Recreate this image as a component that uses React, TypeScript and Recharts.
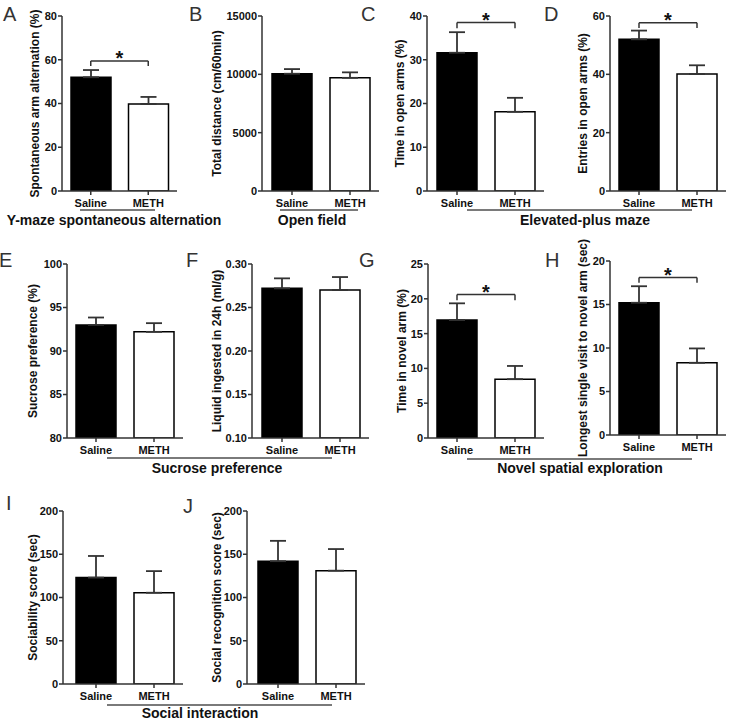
import React from 'react';
import { BarChart, Bar, XAxis, YAxis, ErrorBar, Cell, ReferenceLine } from 'recharts';

const FONT = '"Liberation Sans", Arial, Helvetica, sans-serif';

// ---------- data ----------
const groups = ['Saline', 'METH'];

const yMazeValues = [52.0, 39.8];
const yMazeErrors = [3.3, 3.2];
const yMazeTicks = [0, 20, 40, 60, 80];

const distanceValues = [10050, 9700];
const distanceErrors = [400, 470];
const distanceTicks = [0, 5000, 10000, 15000];

const openTimeValues = [31.6, 18.1];
const openTimeErrors = [4.7, 3.2];
const openTimeTicks = [0, 10, 20, 30, 40];

const openEntriesValues = [52.0, 40.1];
const openEntriesErrors = [3.0, 3.0];
const openEntriesTicks = [0, 20, 40, 60];

const sucroseValues = [93.0, 92.2];
const sucroseErrors = [0.85, 1.0];
const sucroseTicks = [80, 85, 90, 95, 100];

const liquidValues = [0.272, 0.27];
const liquidErrors = [0.0115, 0.015];
const liquidTicks = [0.1, 0.15, 0.2, 0.25, 0.3];

const novelTimeValues = [16.95, 8.45];
const novelTimeErrors = [2.4, 1.9];
const novelTimeTicks = [0, 5, 10, 15, 20, 25];

const longestVisitValues = [15.2, 8.3];
const longestVisitErrors = [1.9, 1.65];
const longestVisitTicks = [0, 5, 10, 15, 20];

const sociabilityValues = [123, 105.5];
const sociabilityErrors = [25, 25];
const socialTicks = [0, 50, 100, 150, 200];

const recognitionValues = [142, 131];
const recognitionErrors = [23.5, 25];

// significance brackets: [bracket level, end-drop level]
const yMazeBracket = [59.4, 57.2];
const openTimeBracket = [38.5, 37.2];
const openEntriesBracket = [57.7, 55.9];
const novelTimeBracket = [20.6, 19.8];
const longestVisitBracket = [18.1, 17.5];

const barFills = ['#000000', '#ffffff'];

// ---------- layout ----------
const YW = 70;
const MT = 10;
const XH = 30;
const MR = 4;
const AXIS = '#333333';

type PanelCfg = {
  values: number[];
  errors: number[];
  ticks: number[];
  title: string;
  axisX: number;
  yTop: number;
  yBot: number;
  c1: number;
  titleOff: number;
  bracket?: number[];
  fmt?: (v: number) => string;
};

const YTitle = (props: any) => {
  const vb = props.viewBox || { x: 0, y: 0, width: YW, height: 100 };
  const cx = vb.x + vb.width - props.off;
  const cy = vb.y + vb.height / 2;
  return (
    <text
      x={cx}
      y={cy}
      transform={`rotate(-90 ${cx} ${cy})`}
      textAnchor="middle"
      dominantBaseline="central"
      fontFamily={FONT}
      fontSize={12}
      fontWeight="bold"
      fill="#111"
    >
      {props.text}
    </text>
  );
};

const Panel = ({ cfg }: { cfg: PanelCfg }) => {
  const data = groups.map((g, i) => ({ group: g, value: cfg.values[i], err: [0, cfg.errors[i]] }));
  const left = cfg.axisX - YW;
  const top = cfg.yTop - MT;
  const height = cfg.yBot - top + XH;
  const padL = Math.max(0, cfg.c1 - 29 - cfg.axisX);
  const plotRight = cfg.c1 + 87;
  const width = plotRight - left + MR;
  const domain = [cfg.ticks[0], cfg.ticks[cfg.ticks.length - 1]];
  const tickStyle = { fontFamily: FONT, fontSize: 11, fontWeight: 'bold', fill: '#111' };
  const lineProps = { stroke: AXIS, strokeWidth: 1.5 };
  return (
    <div style={{ position: 'absolute', left, top }}>
      <BarChart width={width} height={height} data={data} margin={{ top: MT, right: MR, bottom: 0, left: 0 }}>
        <XAxis
          dataKey="group"
          height={XH}
          tickSize={4}
          tickMargin={4}
          padding={{ left: padL, right: 0 }}
          axisLine={lineProps}
          tickLine={lineProps}
          tick={tickStyle}
          interval={0}
        />
        <YAxis
          width={YW}
          domain={domain}
          ticks={cfg.ticks}
          type="number"
          allowDataOverflow
          tickSize={4}
          tickMargin={1}
          axisLine={lineProps}
          tickLine={lineProps}
          tick={tickStyle}
          tickFormatter={cfg.fmt}
          label={<YTitle text={cfg.title} off={cfg.titleOff} />}
        />
        <Bar dataKey="value" barSize={40} stroke="#000" strokeWidth={1.5} isAnimationActive={false}>
          {data.map((d, i) => (
            <Cell key={d.group} fill={barFills[i]} />
          ))}
          <ErrorBar dataKey="err" direction="y" width={8} stroke={AXIS} strokeWidth={1.8} isAnimationActive={false} />
        </Bar>
        {cfg.bracket && (
          <ReferenceLine
            segment={[
              { x: groups[0], y: cfg.bracket[0] },
              { x: groups[1], y: cfg.bracket[0] },
            ]}
            ifOverflow="visible"
            stroke={AXIS}
            strokeWidth={1.5}
            label={{ value: '*', position: 'top', offset: -4, fontSize: 20, fontWeight: 'bold', fill: '#111', fontFamily: FONT }}
          />
        )}
        {cfg.bracket && (
          <ReferenceLine
            segment={[
              { x: groups[0], y: cfg.bracket[0] },
              { x: groups[0], y: cfg.bracket[1] },
            ]}
            ifOverflow="visible"
            stroke={AXIS}
            strokeWidth={1.5}
          />
        )}
        {cfg.bracket && (
          <ReferenceLine
            segment={[
              { x: groups[1], y: cfg.bracket[0] },
              { x: groups[1], y: cfg.bracket[1] },
            ]}
            ifOverflow="visible"
            stroke={AXIS}
            strokeWidth={1.5}
          />
        )}
      </BarChart>
    </div>
  );
};

const panels: PanelCfg[] = [
  { values: yMazeValues, errors: yMazeErrors, ticks: yMazeTicks, title: 'Spontaneous arm alternation (%)', axisX: 62, yTop: 16, yBot: 191, c1: 90, titleOff: 27, bracket: yMazeBracket },
  { values: distanceValues, errors: distanceErrors, ticks: distanceTicks, title: 'Total distance (cm/60min)', axisX: 262, yTop: 16, yBot: 191, c1: 292, titleOff: 45 },
  { values: openTimeValues, errors: openTimeErrors, ticks: openTimeTicks, title: 'Time in open arms (%)', axisX: 427, yTop: 16, yBot: 191, c1: 457, titleOff: 27, bracket: openTimeBracket },
  { values: openEntriesValues, errors: openEntriesErrors, ticks: openEntriesTicks, title: 'Entries in open arms (%)', axisX: 610, yTop: 16, yBot: 191, c1: 639, titleOff: 27, bracket: openEntriesBracket },
  { values: sucroseValues, errors: sucroseErrors, ticks: sucroseTicks, title: 'Sucrose preference (%)', axisX: 67, yTop: 264, yBot: 438, c1: 96, titleOff: 34 },
  { values: liquidValues, errors: liquidErrors, ticks: liquidTicks, title: 'Liquid ingested in 24h (ml/g)', axisX: 252, yTop: 264, yBot: 438, c1: 282, titleOff: 35, fmt: (v: number) => v.toFixed(2) },
  { values: novelTimeValues, errors: novelTimeErrors, ticks: novelTimeTicks, title: 'Time in novel arm (%)', axisX: 428, yTop: 264, yBot: 438, c1: 457, titleOff: 26, bracket: novelTimeBracket },
  { values: longestVisitValues, errors: longestVisitErrors, ticks: longestVisitTicks, title: 'Longest single visit to novel arm (sec)', axisX: 610, yTop: 261, yBot: 435, c1: 639, titleOff: 27, bracket: longestVisitBracket },
  { values: sociabilityValues, errors: sociabilityErrors, ticks: socialTicks, title: 'Sociability score (sec)', axisX: 63, yTop: 511, yBot: 684, c1: 96, titleOff: 30 },
  { values: recognitionValues, errors: recognitionErrors, ticks: socialTicks, title: 'Social recognition score (sec)', axisX: 247, yTop: 511, yBot: 684, c1: 278, titleOff: 30 },
];

const letters = [
  { t: 'A', x: 3, y: 7 },
  { t: 'B', x: 189, y: 7 },
  { t: 'C', x: 361, y: 7 },
  { t: 'D', x: 544, y: 7 },
  { t: 'E', x: -1, y: 253 },
  { t: 'F', x: 186, y: 253 },
  { t: 'G', x: 359, y: 253 },
  { t: 'H', x: 545, y: 253 },
  { t: 'I', x: 6, y: 496 },
  { t: 'J', x: 183, y: 499 },
];

const underlines = [
  { x1: 80, x2: 155, y: 210 },
  { x1: 280, x2: 358, y: 210 },
  { x1: 467, x2: 692, y: 210 },
  { x1: 107, x2: 332, y: 458 },
  { x1: 467, x2: 692, y: 459 },
  { x1: 107, x2: 332, y: 705 },
];

const groupLabels = [
  { t: 'Y-maze spontaneous alternation', cx: 114, cy: 220 },
  { t: 'Open field', cx: 312, cy: 220 },
  { t: 'Elevated-plus maze', cx: 585, cy: 220 },
  { t: 'Sucrose preference', cx: 217, cy: 468 },
  { t: 'Novel spatial exploration', cx: 580, cy: 468 },
  { t: 'Social interaction', cx: 200, cy: 713 },
];

export default function App() {
  return (
    <div style={{ position: 'absolute', left: 0, top: 0, width: 729, height: 720, background: '#fff', overflow: 'hidden', fontFamily: FONT }}>
      <style>{`.recharts-surface{overflow:visible}`}</style>
      {panels.map((p, i) => (
        <Panel key={i} cfg={p} />
      ))}
      {letters.map((l) => (
        <div key={l.t} style={{ position: 'absolute', left: l.x, top: l.y - 2.6, fontSize: 20, lineHeight: '20px', color: '#333', fontFamily: FONT }}>
          {l.t}
        </div>
      ))}
      {underlines.map((u, i) => (
        <div key={i} style={{ position: 'absolute', left: u.x1, top: u.y - 0.75, width: u.x2 - u.x1, height: 1.5, background: '#7a7a7a' }} />
      ))}
      {groupLabels.map((g) => (
        <div key={g.t} style={{ position: 'absolute', left: g.cx, top: g.cy - 7, transform: 'translateX(-50%)', whiteSpace: 'nowrap', fontSize: 14, lineHeight: '14px', fontWeight: 'bold', color: '#111', fontFamily: FONT }}>
          {g.t}
        </div>
      ))}
    </div>
  );
}
